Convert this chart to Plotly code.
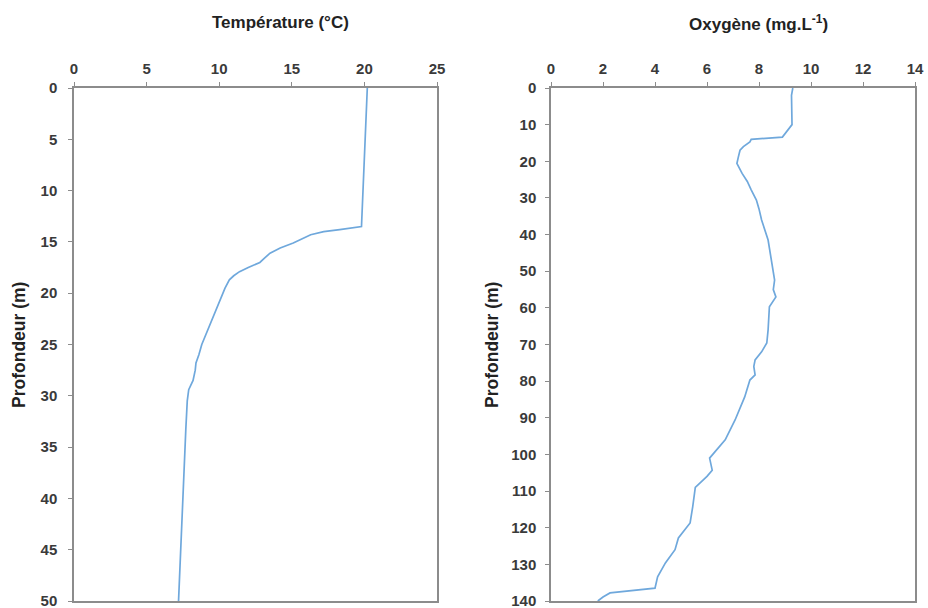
import plotly.graph_objects as go

# ---- data ----
temp_depth = [0, 5, 10, 13.5, 13.8, 14.0, 14.3, 14.7, 15.1, 15.6, 16.1, 16.6, 17.0, 17.5,
              17.9, 18.3, 18.7, 19.5, 20.5, 21.6, 23.0, 24.6, 25.0, 26.0, 26.8, 27.5,
              28.5, 29.4, 30.5, 33.3, 36.5, 39.9, 43.0, 46.3, 50.0]
temp_values = [20.2, 20.05, 19.9, 19.8, 18.3, 17.2, 16.3, 15.7, 15.1, 14.2, 13.5, 13.1, 12.8, 12.0,
               11.4, 11.0, 10.7, 10.4, 10.1, 9.8, 9.35, 8.9, 8.8, 8.6, 8.4, 8.35,
               8.2, 7.9, 7.8, 7.7, 7.6, 7.5, 7.4, 7.3, 7.2]

oxy_depth = [0, 2, 10, 13.4, 14.0, 14.7, 16, 17, 19, 20.6, 23.3, 25.5, 27.8, 30.6, 33, 36,
             41.5, 47.8, 50, 52.4, 55, 57, 59.7, 63, 66, 69.6, 72, 74.2, 76, 78.3, 79.7,
             84.3, 90.6, 96, 99.6, 101, 104.3, 106, 109, 112, 114.3, 118.7, 122.8, 126,
             129.6, 133.4, 136.5, 137.8, 138.9, 140]
oxy_values = [9.3, 9.25, 9.27, 8.9, 7.7, 7.65, 7.4, 7.27, 7.2, 7.15, 7.35, 7.55, 7.7, 7.9, 8.0, 8.1,
              8.35, 8.5, 8.55, 8.6, 8.55, 8.65, 8.4, 8.38, 8.35, 8.3, 8.1, 7.85, 7.8, 7.85, 7.65,
              7.45, 7.08, 6.7, 6.25, 6.1, 6.2, 6.0, 5.55, 5.5, 5.45, 5.35, 4.9, 4.77,
              4.4, 4.1, 4.0, 2.27, 2.0, 1.8]

temp_ticks_x = [0, 5, 10, 15, 20, 25]
temp_ticks_y = [0, 5, 10, 15, 20, 25, 30, 35, 40, 45, 50]
oxy_ticks_x = [0, 2, 4, 6, 8, 10, 12, 14]
oxy_ticks_y = [0, 10, 20, 30, 40, 50, 60, 70, 80, 90, 100, 110, 120, 130, 140]

temp_title = "<b>Température (°C)</b>"
oxy_title = "<b>Oxygène (mg.L<sup>-1</sup>)</b>"
depth_title = "<b>Profondeur (m)</b>"

line_color = "#6FA8DC"
axis_color = "#8C8C8C"
font_fam = "Liberation Sans, Arial, sans-serif"
tick_font = dict(family=font_fam, size=15, color="#3a3a3a", weight="bold")

fig = go.Figure()
fig.add_trace(go.Scatter(x=temp_values, y=temp_depth, mode="lines",
                         line=dict(color=line_color, width=1.7), xaxis="x", yaxis="y",
                         showlegend=False))
fig.add_trace(go.Scatter(x=oxy_values, y=oxy_depth, mode="lines",
                         line=dict(color=line_color, width=1.7), xaxis="x2", yaxis="y2",
                         showlegend=False))

W, H = 928, 608
ytop, ybot = 88, 601
dom_y = [1 - ybot / H, 1 - ytop / H]

common_axis = dict(showline=True, linecolor=axis_color, linewidth=1.5, mirror=True,
                   ticks="outside", ticklen=4, tickcolor=axis_color, tickwidth=1,
                   showgrid=False, zeroline=False, tickfont=tick_font,
                   automargin=False, ticklabeloverflow="allow")

fig.update_layout(
    width=W, height=H,
    margin=dict(l=0, r=0, t=0, b=0, pad=0),
    paper_bgcolor="white", plot_bgcolor="white",
    xaxis=dict(domain=[74 / W, 437 / W], range=[0, 25], side="top", tickvals=temp_ticks_x,
               anchor="y", ticklabelstandoff=2, **common_axis),
    yaxis=dict(domain=dom_y, range=[50, 0], tickvals=temp_ticks_y, anchor="x",
               ticklabelstandoff=8, **common_axis),
    xaxis2=dict(domain=[551 / W, 915 / W], range=[0, 14], side="top", tickvals=oxy_ticks_x,
                anchor="y2", ticklabelstandoff=2, **common_axis),
    yaxis2=dict(domain=dom_y, range=[140, 0], tickvals=oxy_ticks_y, anchor="x2",
                ticklabelstandoff=6, **common_axis),
)

title_font = dict(family=font_fam, size=17, color="#222222")
fig.add_annotation(text=temp_title, x=280 / W, y=1 - 23 / H, xref="paper", yref="paper",
                   showarrow=False, font=title_font, xanchor="center", yanchor="middle")
fig.add_annotation(text=oxy_title, x=758 / W, y=1 - 23 / H, xref="paper",
                   yref="paper", showarrow=False, font=title_font, xanchor="center", yanchor="middle")
fig.add_annotation(text=depth_title, x=19 / W, y=1 - 345 / H, xref="paper", yref="paper",
                   showarrow=False, font=dict(family=font_fam, size=17.5, color="#222222"),
                   textangle=-90, xanchor="center", yanchor="middle")
fig.add_annotation(text=depth_title, x=492 / W, y=1 - 345 / H, xref="paper", yref="paper",
                   showarrow=False, font=dict(family=font_fam, size=17.5, color="#222222"),
                   textangle=-90, xanchor="center", yanchor="middle")

fig.write_html("out.html", config={"displayModeBar": False},
               post_script="document.body.style.margin='0';document.body.style.overflow='hidden';")
